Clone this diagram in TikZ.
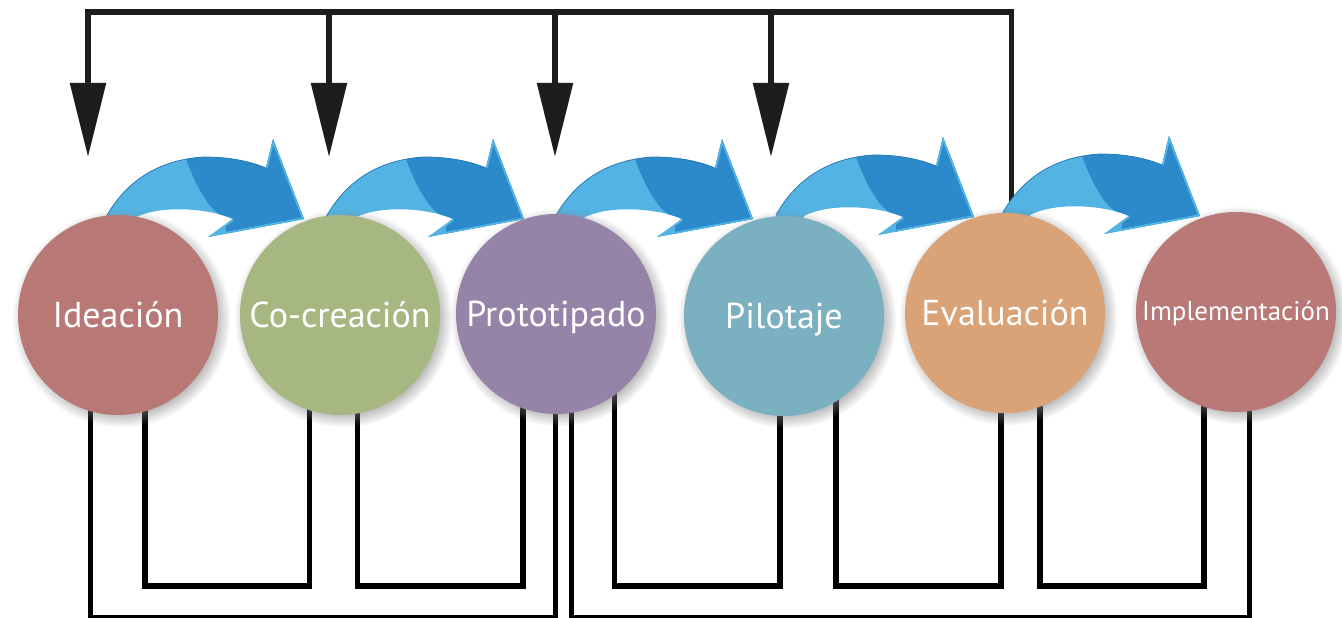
\documentclass[tikz,border=0pt]{standalone}
\usepackage{fontspec}
\setmainfont{PT Sans}
\usetikzlibrary{shadows,fadings,arrows.meta}
\definecolor{cIdea}{HTML}{B87876}
\definecolor{cCo}{HTML}{A6B781}
\definecolor{cProto}{HTML}{9684A8}
\definecolor{cPilot}{HTML}{7AB0BF}
\definecolor{cEval}{HTML}{D9A277}
\definecolor{cImpl}{HTML}{B87977}
\definecolor{lightblue}{HTML}{53B3E3}
\definecolor{darkblue}{HTML}{2C8ACB}
\definecolor{ink}{HTML}{1D1D1B}
\tikzset{
  frame/.style={draw=ink, line width=5.5pt},
  droparrow/.style={frame, -{Triangle[width=35pt,length=74pt]}},
  loopline/.style={draw=black, line width=5.5pt, line join=miter},
  outerloop/.style={draw=black, line width=5pt, line join=miter},
  stage/.style={circle, minimum size=200pt, inner sep=0pt,
    circular drop shadow={shadow xshift=3pt, shadow yshift=-3pt, shadow scale=1.09, opacity=0.6}},
  stagelabel/.style={text=white, anchor=base, font=\fontsize{36}{40}\selectfont, inner sep=0pt}
}
\newcommand\stagearrow[2]{%
  \begin{scope}[shift={(#1,#2)}]
    \fill[lightblue] (-8,240) -- (2,217) .. controls (20,185) and (50,160) .. (100,157)
      .. controls (130,157) and (150,163) .. (162,168) -- (169,139) -- (200,219) -- (104,237)
      -- (129,219) .. controls (110,210) and (60,203) .. (30,218) -- (25,240) -- cycle;
    \begin{scope}
      \clip (-8,240) -- (2,217) .. controls (20,185) and (50,160) .. (100,157)
        .. controls (130,157) and (150,163) .. (162,168) -- (169,139) -- (200,219) -- (104,237)
        -- (129,219) .. controls (110,210) and (60,203) .. (30,218) -- (25,240) -- cycle;
      \fill[darkblue] (80,130) -- (80,152) .. controls (85,170) and (95,190) .. (100,197)
        .. controls (105,205) and (110,212) .. (122,218) -- (122,250) -- (230,250) -- (230,130) -- cycle;
      \draw[lightblue, line width=3.5pt, line join=miter] (162,168) -- (169,139) -- (200,219) -- (104,237) -- (129,219);
    \end{scope}
    \draw[darkblue!90!black, line width=0.8pt] (2,217) .. controls (20,185) and (50,160) .. (100,157)
      .. controls (130,157) and (150,163) .. (162,168);
  \end{scope}}
\begin{document}
\begin{tikzpicture}[x=1pt,y=-1pt]
\useasboundingbox (0,0) rectangle (1342,618);
\fill[white] (0,0) rectangle (1342,618);

% stage positions
\coordinate (pI) at (118,315);
\coordinate (pC) at (340,315);
\coordinate (pP) at (556,314);
\coordinate (pPi) at (784,316);
\coordinate (pE) at (1005,313);
\coordinate (pIm) at (1236,312);

% top feedback frame
\draw[droparrow] (1011.5,205) -- (1011.5,12) -- (88,12) -- (88,157);
\draw[droparrow] (329,12) -- (329,157);
\draw[droparrow] (555,12) -- (555,157);
\draw[droparrow] (771,12) -- (771,157);

% bottom loops
\draw[outerloop] (90.5,0 |- pI) -- (90.5,617) -- (555,617) -- (555,0 |- pP);
\draw[loopline] (145,0 |- pI) |- (309.5,586) -- (309.5,0 |- pC);
\draw[loopline] (357.5,0 |- pC) |- (523,586) -- (523,0 |- pP);
\draw[outerloop] (571.5,0 |- pP) -- (571.5,617) -- (1249,617) -- (1249,0 |- pIm);
\draw[loopline] (614.5,0 |- pP) |- (780,586) -- (780,0 |- pPi);
\draw[loopline] (836,0 |- pPi) |- (1001,586) -- (1001,0 |- pE);
\draw[loopline] (1040,0 |- pE) |- (1204,586) -- (1204,0 |- pIm);

% blue process arrows
\stagearrow{104}{0}
\stagearrow{324}{0}
\stagearrow{553}{0}
\stagearrow{774}{-2}
\stagearrow{1000}{-3}

% stages
\node[stage, fill=cIdea] (I) at (pI) {};
\node[stage, fill=cCo] (C) at (pC) {};
\node[stage, fill=cProto] (P) at (pP) {};
\node[stage, fill=cPilot] (Pi) at (pPi) {};
\node[stage, fill=cEval] (E) at (pE) {};
\node[stage, fill=cImpl] (Im) at (pIm) {};

\node[stagelabel] (tI) at ([yshift=-12pt]I.center) {Ideación};
\node[stagelabel] (tC) at ([yshift=-12pt]C.center) {Co-creación};
\node[stagelabel] (tP) at ([yshift=-12pt]P.center) {Prototipado};
\node[stagelabel] (tPi) at ([yshift=-12pt]Pi.center) {Pilotaje};
\node[stagelabel] (tE) at ([yshift=-12pt]E.center) {Evaluación};
\node[stagelabel, font=\fontsize{27}{30}\selectfont] (tIm) at ([yshift=-8pt]Im.center) {Implementación};
\end{tikzpicture}
\end{document}
